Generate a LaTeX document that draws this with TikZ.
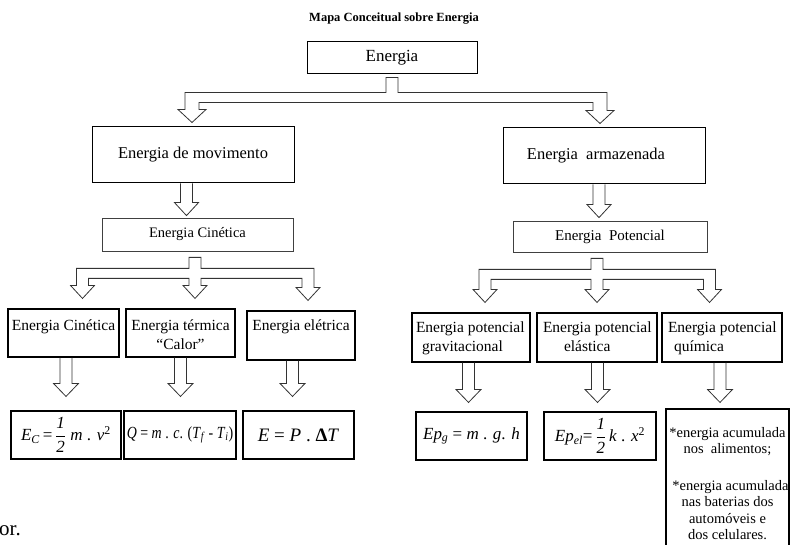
\documentclass[tikz,border=0pt]{standalone}
\usepackage{amsmath}
\usepackage{graphicx}
\usepackage{fontspec}
\setmainfont{Liberation Serif}
\usetikzlibrary{calc}
\tikzset{
  bx/.style={draw=black, line width=1.1pt, inner sep=0pt},
  lbx/.style={draw=black!75, line width=0.8pt, inner sep=0pt},
  blk/.style={draw=black!80, line width=0.8pt, line join=miter},
}
% single block arrow: #1 upper node, #2 lower node, #3 x centre, #4 gap above lower node, #5 head half width
\newcommand{\sarrow}[5]{%
  \draw[blk] let \p1=(#1.south), \p2=(#2.north) in
    (#3pt-6pt,\y1) -- (#3pt-6pt,\y2+#4pt+13pt) -- (#3pt-#5pt,\y2+#4pt+13pt) -- (#3pt,\y2+#4pt)
    -- (#3pt+#5pt,\y2+#4pt+13pt) -- (#3pt+6pt,\y2+#4pt+13pt) -- (#3pt+6pt,\y1);}
% two-leg branch: #1 upper, #2 left lower, #3 right lower, #4 left leg x, #5 right leg x
\newcommand{\twobranch}[5]{%
  \draw[blk] let \p1=(#1.south), \p2=(#2.north), \p3=(#3.north) in
    (\x1-6pt,\y1-3pt) -- (\x1-6pt,\y1-18pt) -- (#4pt-7pt,\y1-18pt) -- (#4pt-7pt,\y2+17pt)
    -- (#4pt-14pt,\y2+17pt) -- (#4pt,\y2+4pt) -- (#4pt+14pt,\y2+17pt) -- (#4pt+7pt,\y2+17pt)
    -- (#4pt+7pt,\y1-28pt) -- (#5pt-7pt,\y1-28pt) -- (#5pt-7pt,\y3+17pt) -- (#5pt-14pt,\y3+17pt)
    -- (#5pt,\y3+4pt) -- (#5pt+14pt,\y3+17pt) -- (#5pt+7pt,\y3+17pt) -- (#5pt+7pt,\y1-18pt)
    -- (\x1+6pt,\y1-18pt) -- (\x1+6pt,\y1-3pt) -- cycle;}
% three-leg branch: #1 upper, #2 #3 #4 lower nodes, #5 stem/middle x, #6 left x, #7 right x
\newcommand{\threebranch}[7]{%
  \draw[blk] let \p1=(#1.south), \p2=(#2.north), \p3=(#3.north), \p4=(#4.north) in
    (#5pt-6pt,\y1-6pt) -- (#5pt-6pt,\y1-17pt) -- (#6pt-6pt,\y1-17pt) -- (#6pt-6pt,\y2+23pt)
    -- (#6pt-12pt,\y2+23pt) -- (#6pt,\y2+10pt) -- (#6pt+12pt,\y2+23pt) -- (#6pt+6pt,\y2+23pt)
    -- (#6pt+6pt,\y1-27pt) -- (#5pt-6pt,\y1-27pt) -- (#5pt-6pt,\y3+23pt) -- (#5pt-12pt,\y3+23pt)
    -- (#5pt,\y3+10pt) -- (#5pt+12pt,\y3+23pt) -- (#5pt+6pt,\y3+23pt) -- (#5pt+6pt,\y1-27pt)
    -- (#7pt-6pt,\y1-27pt) -- (#7pt-6pt,\y4+23pt) -- (#7pt-12pt,\y4+23pt) -- (#7pt,\y4+10pt)
    -- (#7pt+12pt,\y4+23pt) -- (#7pt+6pt,\y4+23pt) -- (#7pt+6pt,\y1-17pt) -- (#5pt+6pt,\y1-17pt)
    -- (#5pt+6pt,\y1-6pt) -- cycle;}
\newcommand{\tbox}[3]{\parbox[c][#2pt][t]{#1pt}{#3}}
\newcommand{\ti}[1]{\textit{#1}}
\begin{document}
\begin{tikzpicture}[x=1pt,y=-1pt]
\useasboundingbox (0,0) rectangle (790,545);

\node[font=\fontsize{12.5}{14}\selectfont\bfseries] (title) at (394,19) {Mapa Conceitual sobre Energia};

\node[bx, line width=1pt, minimum width=170pt, minimum height=32pt, font=\fontsize{17}{19}\selectfont] (en) at (392,58) {Energia};
\node[bx, line width=1pt, minimum width=202pt, minimum height=56pt, font=\fontsize{16.5}{18}\selectfont] (mov) at (193,155) {Energia de movimento};
\node[bx, line width=1pt, minimum width=202pt, minimum height=56pt, font=\fontsize{16.5}{18}\selectfont] (arm) at (604,156) {Energia\ \ armazenada\hspace*{16pt}};

\node[lbx, minimum width=191pt, minimum height=33pt, font=\fontsize{14.5}{17}\selectfont] (ec) at (197.5,234.5) {Energia Cinética};
\node[lbx, minimum width=194pt, minimum height=31pt, font=\fontsize{15}{17}\selectfont] (ep) at (610,236.5) {Energia\ \ Potencial};

\begin{scope}[every node/.style={bx, font=\fontsize{15.5}{19}\selectfont}]
\node (r1) at (63.5,333) {\tbox{111}{48}{\centering\rule{0pt}{21pt}Energia Cinética\par}};
\node (r2) at (180.5,333) {\tbox{109}{48}{\centering\rule{0pt}{21pt}Energia térmica\\“Calor”\par}};
\node (r3) at (301,335.5) {\tbox{108}{49}{\centering\rule{0pt}{20pt}Energia elétrica\par}};
\node (r4) at (471,337.5) {\tbox{118}{49}{\raggedright\rule{0pt}{20pt}\hspace*{4pt}Energia potencial\\\hspace*{10pt}gravitacional\par}};
\node (r5) at (597,337.5) {\tbox{120}{49}{\raggedright\rule{0pt}{20pt}\hspace*{6pt}Energia potencial\\\hspace*{27pt}elástica\par}};
\node (r6) at (722,337.5) {\tbox{120}{49}{\raggedright\rule{0pt}{20pt}\hspace*{6pt}Energia potencial\\\hspace*{12pt}química\par}};
\end{scope}

\begin{scope}[every node/.style={bx, font=\fontsize{17}{20}\selectfont}]
\node[minimum width=110pt, minimum height=48pt] (f1) at (66,435) {\ti{E}\textsubscript{\ti{C}}\,=\,$\dfrac{\textit{1}}{\textit{2}}$\ \ti{m} . \ti{v}\textsuperscript{2}};
\node[minimum width=112pt, minimum height=48pt] (f2) at (180,435) {\scalebox{0.82}[1]{\ti{Q} = \ti{m} . \ti{c}. (\ti{T}\textsubscript{\ti{f}} - \ti{T}\textsubscript{\ti{i}})}};
\node[minimum width=111pt, minimum height=48pt, font=\fontsize{19}{22}\selectfont] (f3) at (298.5,435) {\ti{E} = \ti{P} . {\bfseries Δ}\ti{T}};
\node[minimum width=111pt, minimum height=48pt] (f4) at (471.5,436) {\ti{Ep}\textsubscript{\ti{g}} = \ti{m} . \ti{g}. \ti{h}};
\node[minimum width=112pt, minimum height=48pt] (f5) at (600,436) {\ti{Ep}\textsubscript{\ti{el}}=\,$\dfrac{\textit{1}}{\textit{2}}$\,\ti{k} . \ti{x}\textsuperscript{2}};
\node[minimum width=123pt, minimum height=139pt, font=\fontsize{14.5}{16.5}\selectfont] (f6) at (727.5,478.5) {\tbox{123}{139}{\centering\rule{0pt}{28pt}*energia acumulada\\nos\ \ alimentos;\\[20pt]\hspace*{6pt}*energia acumulada\\nas baterias dos\\automóveis e\\dos celulares.\par}};
\end{scope}

\node[anchor=base west, inner sep=0pt, font=\fontsize{21}{24}\selectfont] (or) at (-1,535) {or.};

% connectors
\twobranch{en}{mov}{arm}{192}{600}
\sarrow{mov}{ec}{186.5}{2}{12}
\sarrow{arm}{ep}{599}{3}{12}
\threebranch{ec}{r1}{r2}{r3}{195}{82.5}{308}
\threebranch{ep}{r4}{r5}{r6}{597}{485}{709.5}
\sarrow{r1}{f1}{66}{14}{12.5}
\sarrow{r2}{f2}{180.5}{14}{12.5}
\sarrow{r3}{f3}{292.5}{14}{12.5}
\sarrow{r4}{f4}{468.5}{9}{12.5}
\sarrow{r5}{f5}{597.5}{9}{12.5}
\sarrow{r6}{f6}{720}{6}{12.5}
\end{tikzpicture}
\end{document}
